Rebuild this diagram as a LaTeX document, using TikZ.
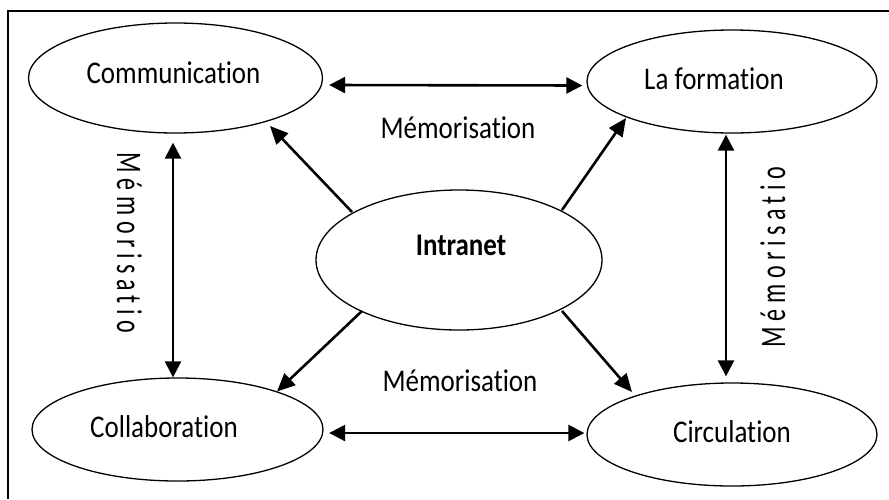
\documentclass[tikz,border=0pt]{standalone}
\usepackage{fontspec}
\setmainfont{Carlito}[Ligatures={NoCommon,NoRare,NoContextual}]
\usetikzlibrary{arrows.meta,shapes.geometric}
\begin{document}
\begin{tikzpicture}[x=1pt,y=-1pt,
  ell/.style={draw, ellipse, line width=1.3pt, inner sep=0pt},
  lbl/.style={font=\fontsize{27}{30}\selectfont, inner sep=0pt, anchor=base},
  vlbl/.style={font=\fontsize{24}{28}\selectfont\addfontfeature{LetterSpace=23}, inner sep=0pt, anchor=base},
  con/.style={line width=2.6pt, -{Triangle[length=18pt,width=16pt]}},
  dcon/.style={line width=2.6pt, {Triangle[length=16pt,width=16pt]}-{Triangle[length=16pt,width=16pt]}}]
\useasboundingbox (0,0) rectangle (889,499);
\fill[white] (0,0) rectangle (889,499);
% frame (top and left edges visible)
\draw[line width=2.5pt] (8,499) -- (8,11) -- (889,11);
% ellipses
\node[ell, minimum width=294pt, minimum height=110pt] (comm) at (175.5,78) {};
\node[ell, minimum width=290pt, minimum height=103pt] (form) at (732,81.5) {};
\node[ell, minimum width=286pt, minimum height=140pt] (intr) at (459,260) {};
\node[ell, minimum width=291pt, minimum height=103pt] (coll) at (177.5,429.5) {};
\node[ell, minimum width=290pt, minimum height=103pt] (circ) at (732,434.5) {};
% texts
\node[lbl] (tcomm) at (173.5,83) {\scalebox{1}[1.17]{Communication}};
\node[lbl] (tform) at (714,89) {\scalebox{1}[1.17]{La formation}};
\node[lbl] (tintr) at (461,255) {\scalebox{1}[1.17]{\bfseries Intranet}};
\node[lbl] (tcoll) at (164,437) {\scalebox{1}[1.17]{Collaboration}};
\node[lbl] (tcirc) at (732,442) {\scalebox{1}[1.17]{Circulation}};
\node[lbl] (mtop) at (458,138) {\scalebox{1}[1.17]{Mémorisation}};
\node[lbl] (mbot) at (460,391) {\scalebox{1}[1.17]{Mémorisation}};
\node[vlbl, rotate=-90] (mleft) at (117,243) {\scalebox{1}[1.5]{Mémorisatio}};
\node[vlbl, rotate=90] (mright) at (785,257) {\scalebox{1}[1.5]{Mémorisatio}};
% double arrows
\draw[dcon] ([shift={(6,7)}]comm.east) -- ([shift={(-4,4)}]form.west);
\draw[dcon] ([shift={(5.5,3.5)}]coll.east) -- ([shift={(-2,-1.5)}]circ.west);
\draw[dcon] ([shift={(-2.5,9)}]comm.south) -- ([shift={(-4.5,0)}]coll.north);
\draw[dcon] ([shift={(-6,1)}]form.south) -- ([shift={(-6,-6)}]circ.north);
% diagonal arrows
\draw[con] ([shift={(-107,-48)}]intr.center) -- ([shift={(94.5,48)}]comm.center);
\draw[con] ([shift={(103,-50)}]intr.center) -- ([shift={(-106,36.5)}]form.center);
\draw[con] ([shift={(-97,51)}]intr.center) -- ([shift={(99.5,-38)}]coll.center);
\draw[con] ([shift={(103,51)}]intr.center) -- ([shift={(-100,-42.5)}]circ.center);
\end{tikzpicture}
\end{document}
